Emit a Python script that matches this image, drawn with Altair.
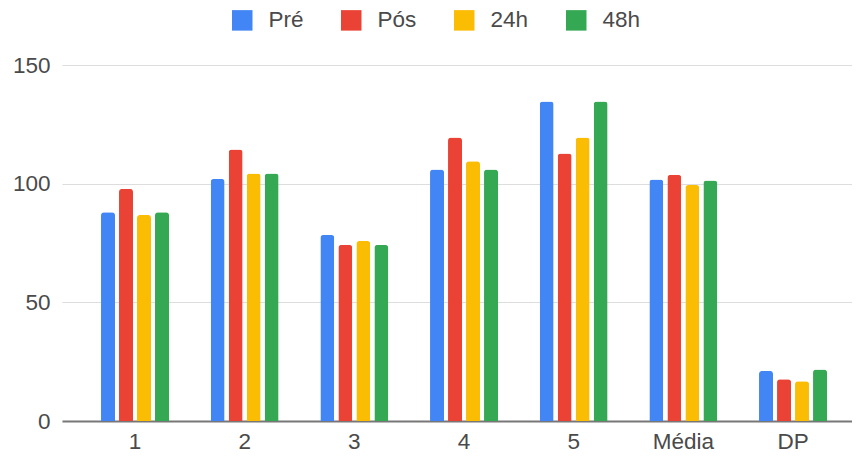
import altair as alt
import pandas as pd

categories = ["1", "2", "3", "4", "5", "Média", "DP"]
series = ["Pré", "Pós", "24h", "48h"]
colors = ["#4285F4", "#EA4335", "#FBBC04", "#34A853"]

pre = [88, 102, 78.4, 106, 134.6, 101.8, 21.1]
pos = [97.8, 114.4, 74.2, 119.5, 112.7, 103.7, 17.6]
h24 = [86.8, 104.3, 75.8, 109.4, 119.5, 99.4, 16.8]
h48 = [88, 104.3, 74.2, 106, 134.6, 101.3, 21.7]

values = {"Pré": pre, "Pós": pos, "24h": h24, "48h": h48}
rows = []
for s in series:
    for c, v in zip(categories, values[s]):
        rows.append({"cat": c, "serie": s, "valor": v})
df = pd.DataFrame(rows)

FONT = "Liberation Sans, Arial, sans-serif"
FS = 22.5
TXT = "#4a4a4a"

chart = (
    alt.Chart(df)
    .mark_bar(cornerRadiusTopLeft=3, cornerRadiusTopRight=3)
    .encode(
        x=alt.X(
            "cat:N",
            sort=categories,
            title=None,
            scale=alt.Scale(paddingInner=0.3435, paddingOuter=0.2735, align=0.617),
            axis=alt.Axis(
                labelAngle=0,
                labelFontSize=FS,
                labelColor=TXT,
                labelFont=FONT,
                labelPadding=9,
                ticks=False,
                domainColor="#777777",
                domainWidth=2,
                grid=False,
            ),
        ),
        xOffset=alt.XOffset(
            "serie:N",
            sort=series,
            scale=alt.Scale(paddingInner=0.2222, paddingOuter=0.1111),
        ),
        y=alt.Y(
            "valor:Q",
            title=None,
            scale=alt.Scale(domain=[0, 150], nice=False),
            axis=alt.Axis(
                values=[0, 50, 100, 150],
                labelFontSize=FS,
                labelColor=TXT,
                labelFont=FONT,
                labelPadding=12,
                ticks=False,
                domain=False,
                gridColor="#dddddd",
                gridWidth=1,
            ),
        ),
        color=alt.Color(
            "serie:N",
            sort=series,
            scale=alt.Scale(domain=series, range=colors),
            legend=alt.Legend(
                title=None,
                orient="none",
                direction="horizontal",
                columns=4,
                legendX=169,
                legendY=-56,
                symbolType="square",
                symbolSize=420,
                symbolStrokeWidth=0,
                symbolOpacity=1,
                labelFontSize=FS,
                labelColor=TXT,
                labelFont=FONT,
                labelOffset=15,
                columnPadding=36,
            ),
        ),
    )
    .properties(
        width=790,
        height=356,
        autosize=alt.AutoSizeParams(type="none"),
        padding={"left": 54, "top": 57, "right": 0, "bottom": 36},
    )
    .configure_view(stroke=None)
)

chart.save("out.html", embed_options={"renderer": "svg", "actions": False})
